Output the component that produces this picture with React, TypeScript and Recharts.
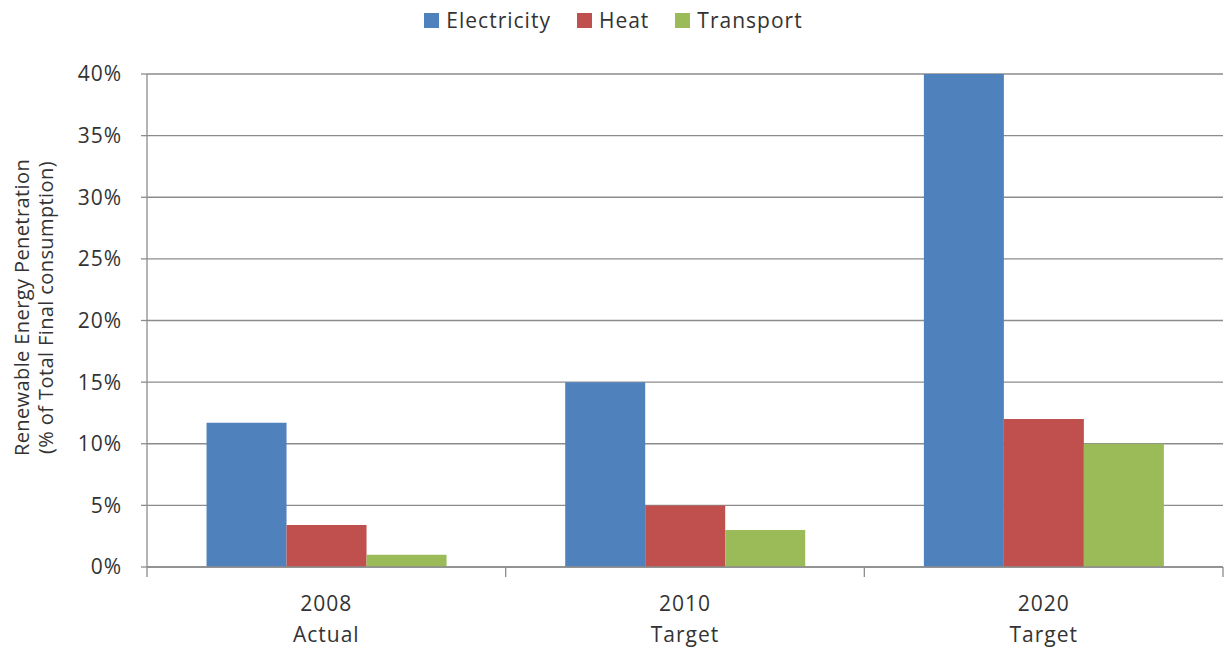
import React from "react";
import { BarChart, Bar, XAxis, YAxis, CartesianGrid, Legend } from "recharts";

// Renewable energy penetration by sector (% of total final consumption)
const years = ["2008", "2010", "2020"];
const statuses = ["Actual", "Target", "Target"];
const electricity = [11.7, 15, 40];
const heat = [3.4, 5, 12];
const transport = [1, 3, 10];
const yTicks = [0, 5, 10, 15, 20, 25, 30, 35, 40];

const seriesNames = ["Electricity", "Heat", "Transport"];
const seriesKeys = ["electricity", "heat", "transport"];
const seriesColors = ["#4F81BD", "#C0504D", "#9BBB59"];

const data = years.map((year, i) => ({
  year,
  status: statuses[i],
  electricity: electricity[i],
  heat: heat[i],
  transport: transport[i],
}));

const FONT = "'Open Sans', sans-serif";
const TEXT = "#333333";
const LINE = "#8c8c8c";

const CategoryTick = (props: any) => {
  const { x, y, payload, index, visibleTicksCount } = props;
  const half = payload && typeof payload.offset === "number" ? payload.offset : 0;
  const row = data[index] || data.find((d) => d.year === payload.value);
  const last = index === (visibleTicksCount ?? data.length) - 1;
  return (
    <g>
      {half > 0 && (
        <line x1={x - half} x2={x - half} y1={y} y2={y + 10} stroke={LINE} strokeWidth={1.3} />
      )}
      {half > 0 && last && (
        <line x1={x + half} x2={x + half} y1={y} y2={y + 10} stroke={LINE} strokeWidth={1.3} />
      )}
      <text
        x={x}
        y={y + 44}
        textAnchor="middle"
        fill={TEXT}
        fontFamily={FONT}
        fontSize={21}
        letterSpacing={1}
      >
        {payload.value}
      </text>
      <text
        x={x}
        y={y + 75}
        textAnchor="middle"
        fill={TEXT}
        fontFamily={FONT}
        fontSize={21}
        letterSpacing={1}
      >
        {row ? row.status : ""}
      </text>
    </g>
  );
};

const YTitle = (props: any) => {
  const vb = props.viewBox || { y: 74, height: 493 };
  const cy = vb.y + vb.height / 2 - 13;
  const bx = 29;
  return (
    <text
      x={bx}
      y={cy}
      transform={`rotate(-90 ${bx} ${cy})`}
      textAnchor="middle"
      fill={TEXT}
      fontFamily={FONT}
      fontSize={20}
      letterSpacing={0.4}
    >
      <tspan x={bx} dy={0}>Renewable Energy Penetration</tspan>
      <tspan x={bx} dy={24}>(% of Total Final consumption)</tspan>
    </text>
  );
};

const LegendContent = () => (
  <div
    style={{
      display: "flex",
      justifyContent: "center",
      alignItems: "center",
      height: 36,
      fontFamily: FONT,
      fontSize: 21,
      letterSpacing: 1,
      color: TEXT,
    }}
  >
    {seriesNames.map((name, i) => (
      <div
        key={name}
        style={{ display: "flex", alignItems: "center", marginRight: i < seriesNames.length - 1 ? 26 : 0 }}
      >
        <span
          style={{
            display: "inline-block",
            width: 15,
            height: 15,
            background: seriesColors[i],
            marginRight: 7,
          }}
        />
        <span>{name}</span>
      </div>
    ))}
  </div>
);

export default function App() {
  return (
    <div style={{ position: "absolute", left: 0, top: 0, width: 1227, height: 648, background: "#fff" }}>
      <BarChart
        width={1227}
        height={648}
        data={data}
        margin={{ top: 34, right: 4, bottom: 0, left: 1 }}
        barCategoryGap="16.6%"
        barGap={0}
      >
        <Legend
          verticalAlign="top"
          height={40}
          content={<LegendContent />}
          wrapperStyle={{ top: 2, left: 0, width: 1227 }}
        />
        <CartesianGrid vertical={false} stroke={LINE} strokeWidth={1.3} />
        <XAxis
          dataKey="year"
          height={81}
          interval={0}
          tickLine={false}
          tickSize={0}
          tickMargin={0}
          axisLine={{ stroke: LINE, strokeWidth: 1.3 }}
          tick={<CategoryTick />}
        />
        <YAxis
          width={146}
          domain={[0, 40]}
          ticks={yTicks}
          interval={0}
          tickFormatter={(v: number) => `${v}%`}
          tickSize={6}
          tickMargin={19}
          axisLine={{ stroke: LINE, strokeWidth: 1.3 }}
          tickLine={{ stroke: LINE, strokeWidth: 1.3 }}
          tick={{ fill: TEXT, fontFamily: FONT, fontSize: 21, letterSpacing: 1 }}
          label={<YTitle />}
        />
        {seriesKeys.map((key, i) => (
          <Bar
            key={key}
            dataKey={key}
            name={seriesNames[i]}
            fill={seriesColors[i]}
            isAnimationActive={false}
          />
        ))}
      </BarChart>
    </div>
  );
}
